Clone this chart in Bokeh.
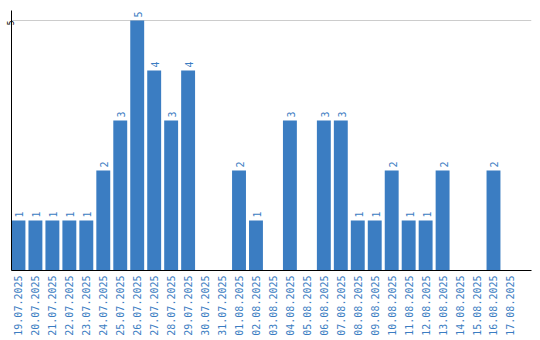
import math
from bokeh.plotting import figure
from bokeh.models import Range1d, FixedTicker, ColumnDataSource
from bokeh.core.properties import value
from bokeh.embed import file_html
from bokeh.resources import INLINE

dates = ["19.07.2025", "20.07.2025", "21.07.2025", "22.07.2025", "23.07.2025",
         "24.07.2025", "25.07.2025", "26.07.2025", "27.07.2025", "28.07.2025",
         "29.07.2025", "30.07.2025", "31.07.2025", "01.08.2025", "02.08.2025",
         "03.08.2025", "04.08.2025", "05.08.2025", "06.08.2025", "07.08.2025",
         "08.08.2025", "09.08.2025", "10.08.2025", "11.08.2025", "12.08.2025",
         "13.08.2025", "14.08.2025", "15.08.2025", "16.08.2025", "17.08.2025"]
counts = [1, 1, 1, 1, 1, 2, 3, 5, 4, 3, 4, 0, 0, 2, 1, 0, 3, 0, 3, 3,
          1, 1, 2, 1, 1, 2, 0, 0, 2, 0]
y_ticks = [5]

BLUE = "#3b7dc2"
FONT = "DejaVu Sans Mono"

xs = list(range(len(dates)))
src = ColumnDataSource(dict(x=xs, top=counts))
nz = [i for i, c in enumerate(counts) if c > 0]
lab_src = ColumnDataSource(dict(x=[xs[i] for i in nz], y=[counts[i] for i in nz],
                                t=[str(counts[i]) for i in nz]))

p = figure(width=540, height=340, output_backend="svg", toolbar_location=None,
           x_range=Range1d(-0.41, 30.24), y_range=Range1d(0, 5.2),
           min_border_left=0, min_border_right=9, min_border_top=10,
           min_border_bottom=70)
p.outline_line_color = None
p.background_fill_color = "white"
p.border_fill_color = "white"

p.vbar(x="x", top="top", width=0.82, source=src, fill_color=BLUE, line_color=None)

p.text(x="x", y="y", text="t", source=lab_src, angle=math.pi / 2,
       text_align="left", text_baseline="middle", x_offset=1, y_offset=-3,
       text_font=value(FONT), text_font_size="10px", text_color=BLUE)

p.xgrid.grid_line_color = None
p.ygrid.ticker = FixedTicker(ticks=y_ticks)
p.ygrid.grid_line_color = "#cccccc"

xa = p.xaxis[0]
xa.ticker = FixedTicker(ticks=xs)
xa.major_label_overrides = {i: d for i, d in enumerate(dates)}
xa.major_label_orientation = math.pi / 2
xa.major_label_text_font = FONT
xa.major_label_text_font_size = "10px"
xa.major_label_text_color = BLUE
xa.major_tick_line_color = None
xa.minor_tick_line_color = None
xa.major_tick_out = 0
xa.major_label_standoff = 5
xa.axis_line_color = "black"

ya = p.yaxis[0]
ya.ticker = FixedTicker(ticks=y_ticks)
ya.major_label_orientation = math.pi / 2
ya.major_label_text_font = FONT
ya.major_label_text_font_size = "8px"
ya.major_label_text_color = "black"
ya.major_tick_line_color = None
ya.minor_tick_line_color = None
ya.major_tick_out = 0
ya.major_label_standoff = 1
ya.axis_line_color = "black"

open("out.html", "w").write(file_html(p, INLINE))
